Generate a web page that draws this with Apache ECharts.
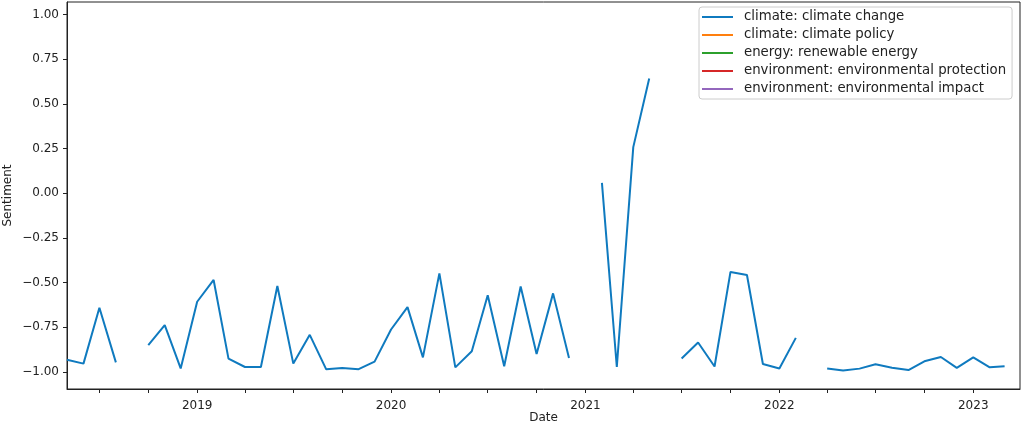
<!DOCTYPE html>
<html>
<head>
<meta charset="utf-8">
<script src="https://cdn.jsdelivr.net/npm/echarts@6/dist/echarts.min.js"></script>
<style>
html,body{margin:0;padding:0;background:#fff;}
#chart{width:1024px;height:425px;}
</style>
</head>
<body>
<div id="chart"></div>
<script>
const months = ['2018-05','2018-06','2018-07','2018-08','2018-09','2018-10','2018-11','2018-12',
'2019-01','2019-02','2019-03','2019-04','2019-05','2019-06','2019-07','2019-08','2019-09','2019-10','2019-11','2019-12',
'2020-01','2020-02','2020-03','2020-04','2020-05','2020-06','2020-07','2020-08','2020-09','2020-10','2020-11','2020-12',
'2021-01','2021-02','2021-03','2021-04','2021-05','2021-06','2021-07','2021-08','2021-09','2021-10','2021-11','2021-12',
'2022-01','2022-02','2022-03','2022-04','2022-05','2022-06','2022-07','2022-08','2022-09','2022-10','2022-11','2022-12',
'2023-01','2023-02','2023-03'];
const climateChange = [-0.931,-0.953,-0.640,-0.946,null,-0.850,-0.738,-0.980,
-0.607,-0.485,-0.925,-0.972,-0.972,-0.519,-0.953,-0.792,-0.985,-0.977,-0.984,-0.942,
-0.762,-0.637,-0.918,-0.448,-0.974,-0.884,-0.570,-0.968,-0.522,-0.899,-0.560,-0.921,
null,0.058,-0.972,0.258,0.642,null,-0.924,-0.835,-0.969,-0.440,-0.457,-0.955,
-0.980,-0.809,null,-0.980,-0.991,-0.981,-0.957,-0.976,-0.989,-0.940,-0.916,-0.977,
-0.918,-0.974,-0.968];
const seriesNames = ['climate: climate change','climate: climate policy','energy: renewable energy','environment: environmental protection','environment: environmental impact'];
const seriesColors = ['#0f7abf','#ff7f0e','#2ca02c','#d62728','#9467bd'];
const yearTicks = ['2019','2020','2021','2022','2023'];
const yTicks = [-1,-0.75,-0.5,-0.25,0,0.25,0.5,0.75,1];

function ts(s){ const p = s.split('-').map(Number); return Date.UTC(p[0], p[1]-1, p[2]||1); }
const xMin = ts('2018-05-01');
const xMax = ts('2023-03-30');
const yearVals = yearTicks.map(y => ts(y + '-01-01'));
const quarterVals = [];
for (let y = 2018, m = 6; ts(y+'-'+(m+1)+'-01') <= ts('2023-03-01'); ) {
  quarterVals.push(ts(y+'-'+(m+1)+'-01'));
  m += 3; if (m >= 12) { m -= 12; y += 1; }
}

const seriesData = [months.map((m,i) => [ts(m+'-01'), climateChange[i]]), [], [], [], []];

const font = 'DejaVu Sans';
const txt = '#222';
const chart = echarts.init(document.getElementById('chart'));
chart.setOption({
  animation: false,
  backgroundColor: '#fff',
  grid: {left: 67, right: 4, top: 2, bottom: 36, show: true, borderColor: '#222', borderWidth: 1,
    containLabel: false, outerBoundsMode: 'none'},
  legend: {
    orient: 'vertical', left: 699, top: 7,
    data: seriesNames.map(n => ({name: n, icon: 'rect'})),
    itemWidth: 31, itemHeight: 2, itemGap: 4,
    padding: [3, 6, 3, 3],
    backgroundColor: 'rgba(255,255,255,0.85)', borderColor: '#ccc', borderWidth: 1, borderRadius: 3,
    textStyle: {fontFamily: font, fontSize: 13.3, color: txt, lineHeight: 14, padding: [0,0,0,6]}
  },
  xAxis: {
    type: 'value', min: xMin, max: xMax,
    name: 'Date', nameLocation: 'middle', nameGap: 29, nameMoveOverlap: false,
    nameTextStyle: {fontFamily: font, fontSize: 12, color: txt, verticalAlign: 'middle'},
    axisLine: {show: true, onZero: false, lineStyle: {color: '#222', width: 1}},
    axisTick: {show: true, length: 4, customValues: quarterVals, lineStyle: {color: '#222'}},
    axisLabel: {customValues: yearVals, margin: 11, fontFamily: font, fontSize: 12, color: txt,
      formatter: v => String(new Date(v).getUTCFullYear())},
    splitLine: {show: false}
  },
  yAxis: {
    type: 'value', min: -1.095, max: 1.07,
    name: 'Sentiment', nameLocation: 'middle', nameGap: 59, nameRotate: 90, nameMoveOverlap: false,
    nameTextStyle: {fontFamily: font, fontSize: 12, color: txt, verticalAlign: 'middle'},
    axisLine: {show: true, onZero: false, lineStyle: {color: '#222', width: 1}},
    axisTick: {show: true, length: 4, customValues: yTicks, lineStyle: {color: '#222'}},
    axisLabel: {customValues: yTicks, margin: 8, fontFamily: font, fontSize: 12, color: txt,
      formatter: v => (v < 0 ? '\u2212' : '') + Math.abs(v).toFixed(2)},
    splitLine: {show: false}
  },
  series: seriesNames.map((n,i) => ({
    name: n, type: 'line', data: seriesData[i], showSymbol: false, symbol: 'none',
    connectNulls: false, color: seriesColors[i],
    lineStyle: {width: 2, color: seriesColors[i]}
  }))
});
</script>
</body>
</html>
